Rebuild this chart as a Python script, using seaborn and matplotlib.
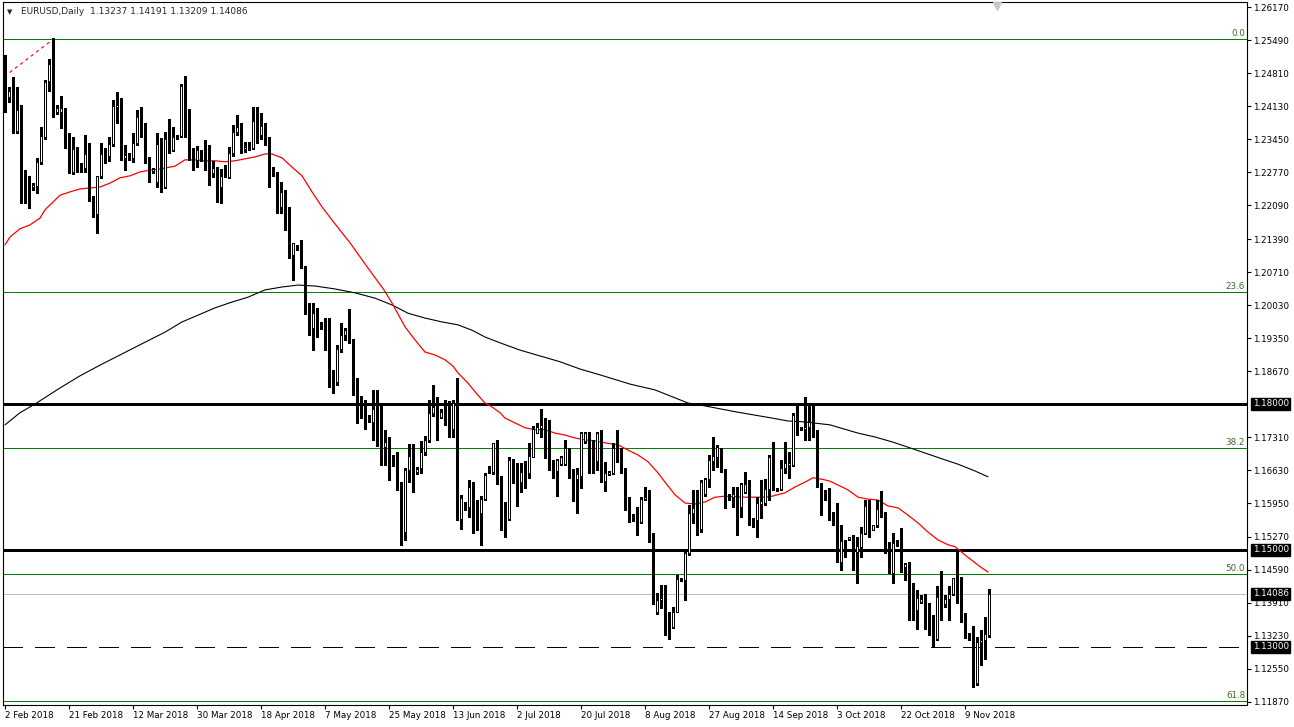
import matplotlib
matplotlib.use('Agg')
import matplotlib.pyplot as plt
import matplotlib.transforms as mtransforms
import seaborn as sns
import numpy as np

# EURUSD daily candles (one bar per trading day, Sunday bars included)
opens = [
    1.2511, 1.2432, 1.2432, 1.2362, 1.2389, 1.2267, 1.2259, 1.2247, 1.2249, 1.2298,
    1.2350, 1.2465, 1.2500, 1.2401, 1.2401, 1.2405, 1.2331, 1.2278, 1.2325, 1.2292,
    1.2286, 1.2315, 1.2224, 1.2191, 1.2269, 1.2317, 1.2311, 1.2335, 1.2412, 1.2414,
    1.2307, 1.2313, 1.2307, 1.2337, 1.2391, 1.2370, 1.2305, 1.2280, 1.2257, 1.2335,
    1.2247, 1.2346, 1.2323, 1.2350, 1.2352, 1.2455, 1.2407, 1.2311, 1.2302, 1.2321,
    1.2307, 1.2292, 1.2276, 1.2286, 1.2247, 1.2278, 1.2267, 1.2317, 1.2360, 1.2370,
    1.2325, 1.2333, 1.2327, 1.2383, 1.2354, 1.2372, 1.2342, 1.2282, 1.2274, 1.2206,
    1.2236, 1.2169, 1.2107, 1.2123, 1.2121, 1.2080, 1.1989, 1.1956, 1.1987, 1.1961,
    1.1954, 1.1932, 1.1866, 1.1845, 1.1913, 1.1942, 1.1952, 1.1930, 1.1818, 1.1814,
    1.1790, 1.1771, 1.1763, 1.1790, 1.1788, 1.1711, 1.1722, 1.1689, 1.1689, 1.1627,
    1.1536, 1.1664, 1.1693, 1.1660, 1.1668, 1.1701, 1.1726, 1.1781, 1.1792, 1.1773,
    1.1784, 1.1773, 1.1748, 1.1802, 1.1563, 1.1592, 1.1588, 1.1629, 1.1588, 1.1575,
    1.1604, 1.1664, 1.1660, 1.1720, 1.1649, 1.1563, 1.1563, 1.1678, 1.1678, 1.1639,
    1.1660, 1.1658, 1.1691, 1.1740, 1.1750, 1.1757, 1.1730, 1.1674, 1.1662, 1.1676,
    1.1676, 1.1709, 1.1653, 1.1645, 1.1651, 1.1724, 1.1740, 1.1693, 1.1683, 1.1740,
    1.1641, 1.1656, 1.1658, 1.1709, 1.1689, 1.1666, 1.1586, 1.1569, 1.1561, 1.1557,
    1.1604, 1.1608, 1.1524, 1.1371, 1.1396, 1.1400, 1.1349, 1.1341, 1.1371, 1.1440,
    1.1437, 1.1493, 1.1575, 1.1586, 1.1543, 1.1614, 1.1645, 1.1683, 1.1691, 1.1709,
    1.1666, 1.1610, 1.1608, 1.1614, 1.1588, 1.1619, 1.1621, 1.1561, 1.1561, 1.1594,
    1.1596, 1.1625, 1.1651, 1.1625, 1.1625, 1.1668, 1.1674, 1.1674, 1.1777, 1.1750,
    1.1748, 1.1753, 1.1763, 1.1746, 1.1633, 1.1617, 1.1608, 1.1577, 1.1551, 1.1474,
    1.1518, 1.1522, 1.1524, 1.1495, 1.1505, 1.1534, 1.1590, 1.1540, 1.1551, 1.1584,
    1.1575, 1.1493, 1.1452, 1.1516, 1.1511, 1.1464, 1.1472, 1.1400, 1.1376, 1.1392,
    1.1398, 1.1376, 1.1345, 1.1316, 1.1402, 1.1388, 1.1398, 1.1408, 1.1441, 1.1431,
    1.1369, 1.1320, 1.1322, 1.1225, 1.1310, 1.1314, 1.13237]
highs = [
    1.2519, 1.2453, 1.2473, 1.2453, 1.2416, 1.2282, 1.2269, 1.2255, 1.2307, 1.2370,
    1.2467, 1.2511, 1.2554, 1.2416, 1.2434, 1.2410, 1.2358, 1.2350, 1.2329, 1.2296,
    1.2354, 1.2337, 1.2228, 1.2269, 1.2337, 1.2327, 1.2350, 1.2426, 1.2443, 1.2430,
    1.2333, 1.2317, 1.2358, 1.2405, 1.2412, 1.2379, 1.2309, 1.2286, 1.2358, 1.2348,
    1.2360, 1.2387, 1.2370, 1.2354, 1.2459, 1.2475, 1.2407, 1.2327, 1.2331, 1.2323,
    1.2344, 1.2333, 1.2300, 1.2288, 1.2284, 1.2292, 1.2329, 1.2375, 1.2395, 1.2379,
    1.2340, 1.2340, 1.2412, 1.2412, 1.2399, 1.2379, 1.2350, 1.2288, 1.2278, 1.2257,
    1.2241, 1.2206, 1.2132, 1.2127, 1.2138, 1.2084, 1.2008, 1.2008, 1.1998, 1.1969,
    1.1977, 1.1977, 1.1870, 1.1922, 1.1967, 1.1957, 1.1996, 1.1934, 1.1853, 1.1816,
    1.1808, 1.1777, 1.1829, 1.1829, 1.1798, 1.1746, 1.1732, 1.1695, 1.1701, 1.1639,
    1.1668, 1.1718, 1.1718, 1.1670, 1.1724, 1.1734, 1.1808, 1.1839, 1.1814, 1.1790,
    1.1808, 1.1806, 1.1808, 1.1853, 1.1613, 1.1598, 1.1643, 1.1639, 1.1602, 1.1610,
    1.1658, 1.1672, 1.1720, 1.1726, 1.1651, 1.1598, 1.1691, 1.1687, 1.1678, 1.1678,
    1.1683, 1.1720, 1.1755, 1.1761, 1.1790, 1.1771, 1.1767, 1.1685, 1.1687, 1.1693,
    1.1726, 1.1709, 1.1666, 1.1668, 1.1742, 1.1742, 1.1742, 1.1726, 1.1742, 1.1746,
    1.1681, 1.1662, 1.1720, 1.1746, 1.1709, 1.1668, 1.1608, 1.1573, 1.1588, 1.1608,
    1.1629, 1.1623, 1.1534, 1.1411, 1.1427, 1.1427, 1.1371, 1.1382, 1.1448, 1.1442,
    1.1495, 1.1592, 1.1623, 1.1623, 1.1643, 1.1647, 1.1695, 1.1732, 1.1716, 1.1709,
    1.1666, 1.1614, 1.1629, 1.1629, 1.1637, 1.1660, 1.1643, 1.1565, 1.1608, 1.1643,
    1.1645, 1.1695, 1.1722, 1.1627, 1.1685, 1.1722, 1.1701, 1.1781, 1.1802, 1.1752,
    1.1814, 1.1800, 1.1798, 1.1746, 1.1637, 1.1623, 1.1627, 1.1577, 1.1596, 1.1551,
    1.1520, 1.1526, 1.1530, 1.1526, 1.1546, 1.1602, 1.1602, 1.1551, 1.1602, 1.1621,
    1.1577, 1.1516, 1.1534, 1.1520, 1.1545, 1.1472, 1.1474, 1.1431, 1.1417, 1.1406,
    1.1408, 1.1390, 1.1365, 1.1425, 1.1456, 1.1406, 1.1425, 1.1441, 1.1499, 1.1444,
    1.1369, 1.1328, 1.1343, 1.1320, 1.1334, 1.1361, 1.14191]
lows = [
    1.2401, 1.2422, 1.2358, 1.2358, 1.2214, 1.2214, 1.2204, 1.2241, 1.2234, 1.2294,
    1.2346, 1.2445, 1.2391, 1.2397, 1.2368, 1.2327, 1.2276, 1.2274, 1.2278, 1.2278,
    1.2278, 1.2218, 1.2185, 1.2152, 1.2265, 1.2296, 1.2300, 1.2331, 1.2379, 1.2302,
    1.2282, 1.2302, 1.2298, 1.2333, 1.2350, 1.2296, 1.2257, 1.2276, 1.2247, 1.2236,
    1.2245, 1.2317, 1.2321, 1.2346, 1.2350, 1.2350, 1.2302, 1.2282, 1.2288, 1.2300,
    1.2282, 1.2251, 1.2267, 1.2216, 1.2214, 1.2267, 1.2265, 1.2311, 1.2354, 1.2317,
    1.2319, 1.2323, 1.2325, 1.2337, 1.2346, 1.2333, 1.2247, 1.2269, 1.2193, 1.2193,
    1.2158, 1.2101, 1.2055, 1.2117, 1.2080, 1.1985, 1.1942, 1.1911, 1.1938, 1.1954,
    1.1911, 1.1835, 1.1823, 1.1839, 1.1907, 1.1932, 1.1926, 1.1818, 1.1761, 1.1771,
    1.1749, 1.1763, 1.1726, 1.1713, 1.1674, 1.1674, 1.1643, 1.1672, 1.1623, 1.1510,
    1.1520, 1.1639, 1.1619, 1.1656, 1.1658, 1.1695, 1.1722, 1.1775, 1.1726, 1.1771,
    1.1757, 1.1732, 1.1732, 1.1561, 1.1542, 1.1582, 1.1567, 1.1534, 1.1540, 1.1510,
    1.1602, 1.1658, 1.1656, 1.1635, 1.1540, 1.1526, 1.1561, 1.1637, 1.1590, 1.1619,
    1.1627, 1.1648, 1.1691, 1.1740, 1.1732, 1.1689, 1.1664, 1.1648, 1.1611, 1.1674,
    1.1674, 1.1648, 1.1600, 1.1575, 1.1627, 1.1720, 1.1658, 1.1658, 1.1664, 1.1639,
    1.1621, 1.1654, 1.1656, 1.1681, 1.1658, 1.1582, 1.1557, 1.1559, 1.1530, 1.1555,
    1.1602, 1.1516, 1.1388, 1.1367, 1.1380, 1.1324, 1.1316, 1.1339, 1.1371, 1.1435,
    1.1396, 1.1489, 1.1555, 1.1530, 1.1536, 1.1611, 1.1629, 1.1664, 1.1670, 1.1660,
    1.1586, 1.1602, 1.1588, 1.1530, 1.1567, 1.1617, 1.1551, 1.1546, 1.1526, 1.1565,
    1.1592, 1.1602, 1.1623, 1.1621, 1.1623, 1.1658, 1.1648, 1.1672, 1.1736, 1.1746,
    1.1726, 1.1726, 1.1732, 1.1629, 1.1571, 1.1602, 1.1561, 1.1551, 1.1474, 1.1458,
    1.1485, 1.1520, 1.1458, 1.1431, 1.1485, 1.1532, 1.1526, 1.1540, 1.1546, 1.1567,
    1.1493, 1.1452, 1.1431, 1.1507, 1.1454, 1.1437, 1.1355, 1.1355, 1.1336, 1.1390,
    1.1336, 1.1324, 1.1301, 1.1314, 1.1355, 1.1382, 1.1355, 1.1406, 1.1390, 1.1351,
    1.1318, 1.1314, 1.1217, 1.1221, 1.1263, 1.1275, 1.13209]
closes = [
    1.2405, 1.2445, 1.2362, 1.2405, 1.2267, 1.2257, 1.2247, 1.2251, 1.2298, 1.2352,
    1.2463, 1.2500, 1.2401, 1.2410, 1.2410, 1.2331, 1.2278, 1.2325, 1.2292, 1.2286,
    1.2315, 1.2224, 1.2191, 1.2269, 1.2315, 1.2311, 1.2335, 1.2414, 1.2416, 1.2307,
    1.2313, 1.2307, 1.2337, 1.2391, 1.2370, 1.2305, 1.2282, 1.2284, 1.2335, 1.2247,
    1.2346, 1.2323, 1.2350, 1.2352, 1.2455, 1.2407, 1.2311, 1.2300, 1.2323, 1.2302,
    1.2292, 1.2276, 1.2286, 1.2247, 1.2269, 1.2269, 1.2317, 1.2360, 1.2370, 1.2325,
    1.2329, 1.2327, 1.2383, 1.2342, 1.2372, 1.2340, 1.2286, 1.2274, 1.2206, 1.2236,
    1.2169, 1.2107, 1.2132, 1.2119, 1.2080, 1.1989, 1.1948, 1.1987, 1.1959, 1.1954,
    1.1934, 1.1866, 1.1845, 1.1913, 1.1942, 1.1952, 1.1938, 1.1818, 1.1814, 1.1790,
    1.1769, 1.1763, 1.1790, 1.1792, 1.1711, 1.1722, 1.1645, 1.1683, 1.1627, 1.1536,
    1.1664, 1.1693, 1.1658, 1.1666, 1.1701, 1.1726, 1.1781, 1.1794, 1.1769, 1.1784,
    1.1771, 1.1748, 1.1802, 1.1561, 1.1606, 1.1588, 1.1629, 1.1588, 1.1575, 1.1604,
    1.1654, 1.1660, 1.1720, 1.1649, 1.1563, 1.1565, 1.1685, 1.1676, 1.1639, 1.1660,
    1.1662, 1.1693, 1.1748, 1.1753, 1.1757, 1.1726, 1.1672, 1.1662, 1.1685, 1.1691,
    1.1709, 1.1649, 1.1645, 1.1656, 1.1740, 1.1740, 1.1691, 1.1683, 1.1740, 1.1641,
    1.1658, 1.1660, 1.1709, 1.1687, 1.1662, 1.1584, 1.1567, 1.1561, 1.1559, 1.1604,
    1.1608, 1.1524, 1.1411, 1.1396, 1.1400, 1.1349, 1.1341, 1.1371, 1.1440, 1.1435,
    1.1493, 1.1575, 1.1586, 1.1543, 1.1639, 1.1645, 1.1685, 1.1693, 1.1711, 1.1666,
    1.1600, 1.1602, 1.1614, 1.1588, 1.1635, 1.1635, 1.1561, 1.1549, 1.1596, 1.1600,
    1.1625, 1.1691, 1.1623, 1.1623, 1.1668, 1.1678, 1.1678, 1.1777, 1.1746, 1.1746,
    1.1753, 1.1763, 1.1742, 1.1633, 1.1602, 1.1602, 1.1575, 1.1551, 1.1474, 1.1518,
    1.1516, 1.1526, 1.1495, 1.1507, 1.1534, 1.1590, 1.1557, 1.1551, 1.1584, 1.1575,
    1.1493, 1.1452, 1.1514, 1.1509, 1.1464, 1.1470, 1.1400, 1.1376, 1.1400, 1.1398,
    1.1373, 1.1345, 1.1316, 1.1402, 1.1390, 1.1398, 1.1408, 1.1441, 1.1431, 1.1369,
    1.1334, 1.1322, 1.1225, 1.1310, 1.1314, 1.1326, 1.14086]

# moving averages, read at bar positions
ma_fast_bars = [0, 1.25, 3.75, 6.25, 8.75, 10, 11.25, 13.75, 16.25, 18.75, 21.25, 23.75,
                26.25, 28.75, 31.25, 33.75, 36.25, 38.75, 42.5, 45, 47.5, 50, 52.5, 55,
                57.5, 60, 62.5, 65, 66.75, 69.25, 71.75, 74.25, 76.75, 79.25, 81.75, 86.25,
                90.75, 94.75, 96.75, 100, 102.5, 105, 107.5, 110, 112, 113.25, 115.75,
                118.25, 120, 121.75, 123.75, 125, 127.5, 130, 132.5, 135, 137.5, 140,
                142.5, 145, 147.5, 150, 153.25, 155.75, 158.25, 160.75, 163.25, 165,
                167.5, 170, 172.5, 175, 177.5, 180, 185, 190, 191.75, 195, 197.5, 200,
                202, 204.25, 206.25, 208.25, 210.75, 213.25, 215.75, 218.25, 220.75,
                223.25, 225.75, 228.25, 230.75, 233.25, 235.75, 237.5, 240, 242.5,
                244.25, 245.75]
ma_fast = [1.2128, 1.2144, 1.2161, 1.2169, 1.2183, 1.2200, 1.2210, 1.2230, 1.2237, 1.2243,
           1.2245, 1.2247, 1.2255, 1.2266, 1.2270, 1.2278, 1.2282, 1.2284, 1.2290, 1.2303,
           1.2303, 1.2301, 1.2301, 1.2299, 1.2301, 1.2305, 1.2309, 1.2315, 1.2315, 1.2307,
           1.2288, 1.2270, 1.2237, 1.2206, 1.2179, 1.2132, 1.2080, 1.2035, 1.2008, 1.1959,
           1.1932, 1.1907, 1.1901, 1.1891, 1.1878, 1.1864, 1.1843, 1.1818, 1.1802, 1.1794,
           1.1782, 1.1771, 1.1761, 1.1751, 1.1747, 1.1747, 1.1740, 1.1736, 1.1730, 1.1726,
           1.1724, 1.1720, 1.1716, 1.1705, 1.1695, 1.1681, 1.1658, 1.1639, 1.1613, 1.1596,
           1.1594, 1.1598, 1.1608, 1.1610, 1.1608, 1.1608, 1.1610, 1.1617, 1.1629, 1.1639,
           1.1648, 1.1645, 1.1641, 1.1633, 1.1623, 1.1608, 1.1604, 1.1602, 1.1590, 1.1586,
           1.1571, 1.1555, 1.1536, 1.1520, 1.1510, 1.1506, 1.1489, 1.1473, 1.1462, 1.1454]
ma_slow_bars = [0, 3.75, 7.5, 13.75, 18.75, 23.75, 28.75, 33.75, 40, 44.25, 48.25, 52.5,
                56.75, 60.75, 65, 69.25, 73.25, 77.5, 82.5, 87.5, 92.5, 96.75, 100.75, 105,
                109.25, 113.25, 116.75, 120, 123.75, 128.75, 133.75, 138.75, 143.75,
                148.75, 156.25, 162.5, 170.75, 175, 183.25, 187.5, 191.75, 195.75, 200,
                206.25, 213.25, 217.5, 221.75, 225.75, 230, 234.25, 238.25, 242.5, 245.75]
ma_slow = [1.1757, 1.1782, 1.1800, 1.1833, 1.1858, 1.1880, 1.1901, 1.1922, 1.1948, 1.1969,
           1.1983, 1.1998, 1.2010, 1.2020, 1.2035, 1.2041, 1.2045, 1.2043, 1.2037, 1.2029,
           1.2018, 1.2004, 1.1987, 1.1977, 1.1969, 1.1963, 1.1952, 1.1938, 1.1926, 1.1911,
           1.1899, 1.1887, 1.1872, 1.1860, 1.1841, 1.1829, 1.1802, 1.1796, 1.1783, 1.1777,
           1.1771, 1.1765, 1.1763, 1.1757, 1.1740, 1.1732, 1.1722, 1.1711, 1.1699, 1.1687,
           1.1676, 1.1662, 1.1650]

# fibonacci retracement anchors (bar, price) and levels
fib_bars = [-339, 12]
fib_prices = [1.0347, 1.2551]
fib_levels = [0.0, 23.6, 38.2, 50.0, 61.8]

# horizontal levels drawn on the chart
support_levels = [1.18, 1.15]
dashed_level = 1.13
last_price = 1.14086
level_labels = ['1.18000', '1.15000', '1.13000', '1.14086']

price_ticks = [1.26170, 1.25490, 1.24810, 1.24130, 1.23450, 1.22770, 1.22090, 1.21390,
               1.20710, 1.20030, 1.19350, 1.18670, 1.17310, 1.16630, 1.15950, 1.15270,
               1.14590, 1.13910, 1.13230, 1.12550, 1.11870]
date_labels = ['2 Feb 2018', '21 Feb 2018', '12 Mar 2018', '30 Mar 2018', '18 Apr 2018',
               '7 May 2018', '25 May 2018', '13 Jun 2018', '2 Jul 2018', '20 Jul 2018',
               '8 Aug 2018', '27 Aug 2018', '14 Sep 2018', '3 Oct 2018', '22 Oct 2018',
               '9 Nov 2018']
date_bars = [0, 16, 32, 48, 64, 80, 96, 112, 128, 144, 160, 176, 192, 208, 224, 240]

sns.set_style('white')
plt.rcParams['font.family'] = ['DejaVu Sans']

W, H = 1294, 727
fig = plt.figure(figsize=(W / 100, H / 100), dpi=100)
ax = fig.add_axes([3 / W, 22 / H, 1244 / W, 703 / H])
ax.set_facecolor('white')

o = np.array(opens)
h = np.array(highs)
l = np.array(lows)
c = np.array(closes)
x = np.arange(len(o))
up = c >= o

btrans = mtransforms.blended_transform_factory(ax.transAxes, ax.transData)
px = 0.72  # one pixel in points at 100 dpi

# green fibonacci levels
fib_green = '#008000'
span = fib_prices[1] - fib_prices[0]
for lev in fib_levels:
    p = fib_prices[1] - span * lev / 100
    ax.axhline(p, color=fib_green, lw=px, zorder=1, antialiased=False)
    ax.text(0.9985, p + 0.0002, f'{lev:.1f}', transform=btrans,
            ha='right', va='bottom', fontsize=6.3, color='#3d6b2a')

ax.axhline(last_price, color='#c0c0c0', lw=px, zorder=1, antialiased=False)
for lv in support_levels:
    ax.axhline(lv, color='black', lw=3 * px, zorder=1, antialiased=False)
ax.axhline(dashed_level, color='black', lw=px, ls=(0, (19, 13)), zorder=1, antialiased=False)

# fib trend line (dashed red)
sns.lineplot(x=fib_bars, y=fib_prices, ax=ax, color='red', lw=0.8, linestyle=(0, (3, 3)), zorder=2)

# moving averages
sns.lineplot(x=ma_slow_bars, y=ma_slow, ax=ax, color='black', lw=0.8, zorder=2)
sns.lineplot(x=ma_fast_bars, y=ma_fast, ax=ax, color='red', lw=0.9, zorder=2)

# candles
ax.vlines(x, l, h, color='black', lw=0.8, zorder=3, antialiased=False)
body_bottom = np.minimum(o, c)
body_height = np.maximum(np.abs(c - o), 0.00005)
ax.bar(x[up], body_height[up], bottom=body_bottom[up], width=0.72, color='white',
       edgecolor='black', lw=0.7, zorder=4, antialiased=False)
ax.bar(x[~up], body_height[~up], bottom=body_bottom[~up], width=0.72, color='black',
       edgecolor='black', lw=0.7, zorder=4, antialiased=False)

ax.set_xlim(-0.5, 310.5)
ax.set_ylim(1.11799, 1.26281)

# axes
ax.yaxis.tick_right()
ax.set_yticks(price_ticks)
ax.set_yticklabels([f'{t:.5f}' for t in price_ticks])
ax.set_xticks(date_bars)
ax.set_xticklabels(date_labels)
for lab in ax.get_xticklabels():
    lab.set_horizontalalignment('left')
ax.tick_params(axis='y', which='both', direction='out', length=3, width=0.8, pad=1.5,
               labelsize=6.3, colors='black', right=True, left=False)
ax.tick_params(axis='x', which='both', direction='out', length=3, width=0.8, pad=1.5,
               labelsize=6.3, colors='black', bottom=True)
for s in ax.spines.values():
    s.set_color('black')
    s.set_linewidth(0.8)
ax.grid(False)

# price labels on black boxes
for val, txt in zip(support_levels + [dashed_level, last_price], level_labels):
    ax.text(1.0045, val, txt, transform=btrans, ha='left', va='center', fontsize=6.3,
            color='white', zorder=10, clip_on=False,
            bbox=dict(boxstyle='square,pad=0.18', fc='black', ec='black'))

# header
ax.text(0.0035, 0.986, '\u25bc', transform=ax.transAxes, fontsize=5, va='center', ha='left')
ax.text(0.0145, 0.986, 'EURUSD,Daily  1.13237 1.14191 1.13209 1.14086', transform=ax.transAxes,
        fontsize=6.5, va='center', ha='left')
ax.plot([0.799], [0.994], marker='v', color='#c8c8c8', markersize=6, transform=ax.transAxes,
        clip_on=False, zorder=5)

fig.savefig('out.png', dpi=100, facecolor='white')
